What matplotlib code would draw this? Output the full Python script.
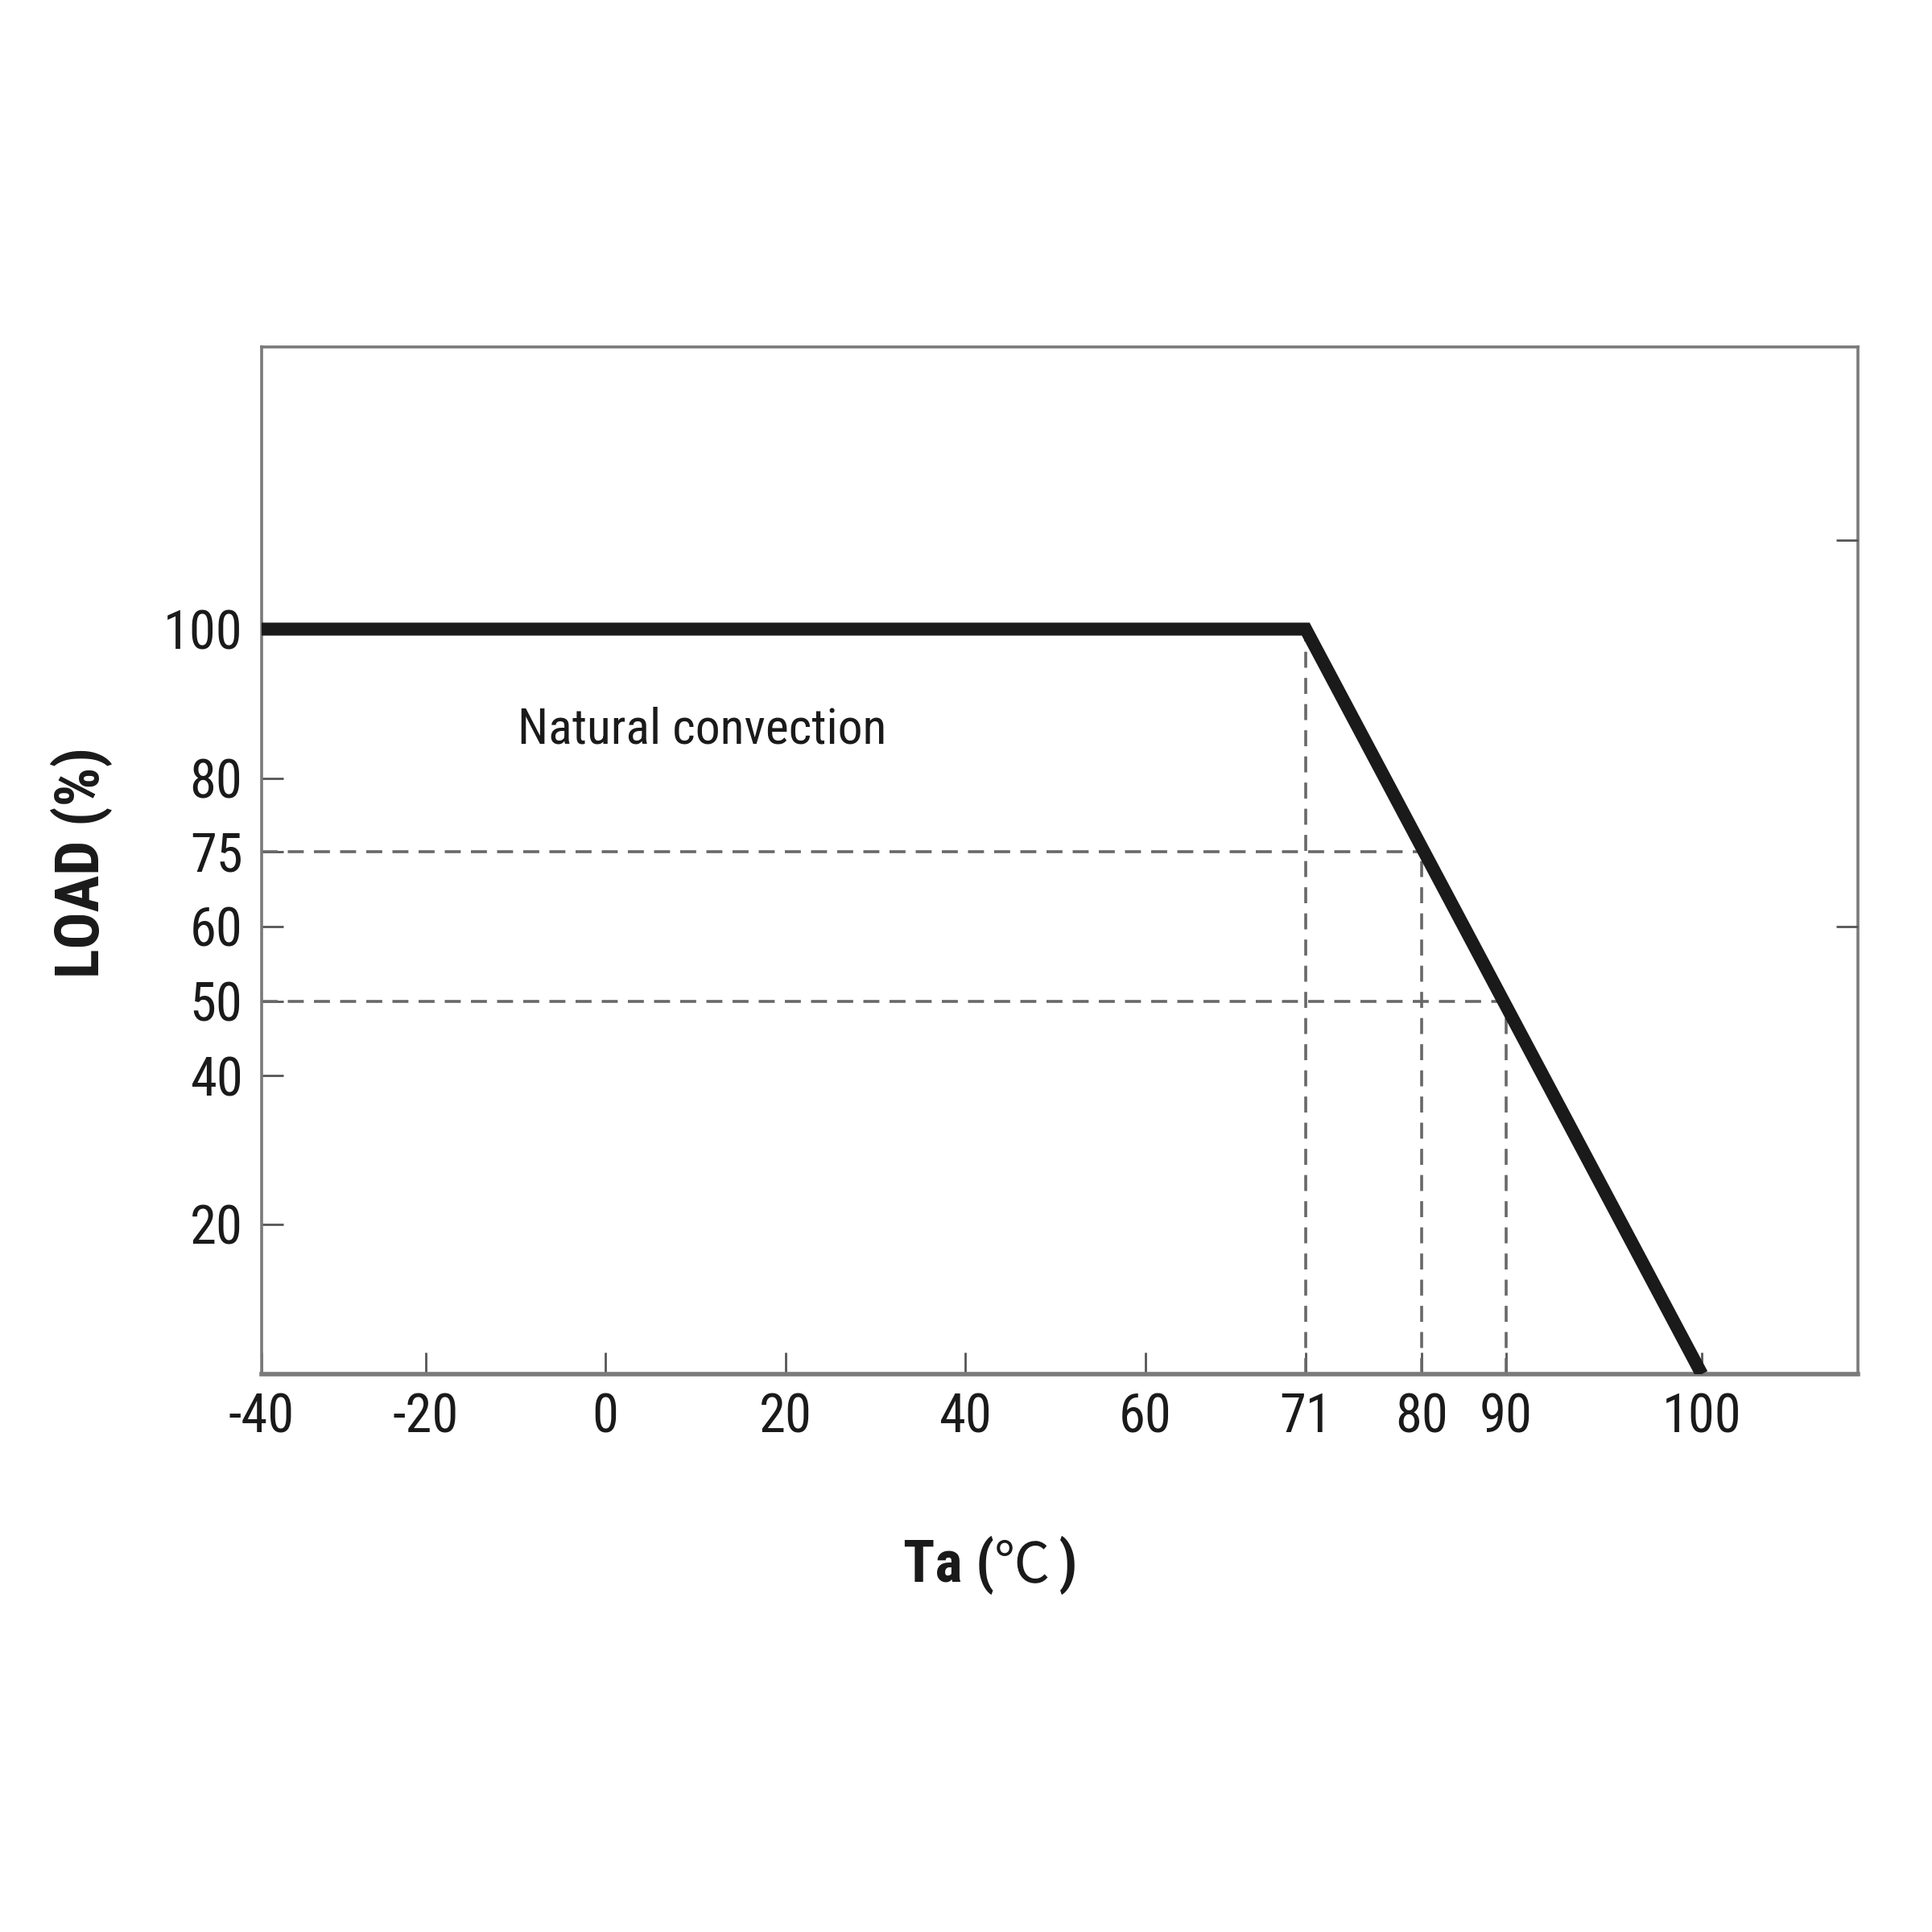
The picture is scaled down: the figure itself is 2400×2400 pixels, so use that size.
import numpy as np
import matplotlib
matplotlib.use('Agg')
import matplotlib.pyplot as plt
from matplotlib import font_manager

names = {f.name for f in font_manager.fontManager.ttflist}
prefs = ['Liberation Sans Narrow', 'Arial Narrow', 'Roboto Condensed', 'Archivo Narrow',
         'PT Sans Narrow', 'Pragati Narrow', 'Liberation Sans']
NARROW = next((p for p in prefs if p in names), 'DejaVu Sans')
plt.rcParams['font.family'] = [NARROW, 'DejaVu Sans']

# ---- data ----
temp = [-40, 71, 100]
load = [100, 100, 0]
x_ticks = [-40, -20, 0, 20, 40, 60, 71, 80, 90, 100]
x_labels = ['-40', '-20', '0', '20', '40', '60', '71', '80', '90', '100']
y_ticks = [20, 40, 50, 60, 75, 80, 100]
y_labels = ['20', '40', '50', '60', '75', '80', '100']
guide_x = [71, 80, 90]
guide_y = [100, 75, 50]
right_ticks = [60, 112]
note = 'Natural convection'

# ---- schematic (non-uniform) axis scales ----
x_knot_val = [-40, -20, 0, 20, 40, 60, 71, 80, 90, 100, 112]
x_knot_pos = [0, 204, 427, 651, 874, 1098, 1297, 1441, 1546, 1789, 1983]
y_knot_val = [0, 20, 40, 50, 60, 75, 80, 100, 138]
y_knot_pos = [0, 186, 371, 463.5, 556.5, 649.5, 740, 925.5, 1276.4]

def fx(v):
    return np.interp(v, x_knot_val, x_knot_pos)
def ix(p):
    return np.interp(p, x_knot_pos, x_knot_val)
def fy(v):
    return np.interp(v, y_knot_val, y_knot_pos)
def iy(p):
    return np.interp(p, y_knot_pos, y_knot_val)

W = 2400
fig = plt.figure(figsize=(12, 12), dpi=200)
ax = fig.add_axes([325 / W, (W - 1707) / W, (2308 - 325) / W, (1707 - 430.6) / W])
ax.set_xscale('function', functions=(fx, ix))
ax.set_yscale('function', functions=(fy, iy))
ax.set_xlim(-40, 112)
ax.set_ylim(0, 138)

grey = '#7a7a7a'
for s in ax.spines.values():
    s.set_color(grey)
    s.set_linewidth(1.3)
ax.spines['bottom'].set_linewidth(2.0)

# dashed guides
dash_col = '#686868'
for gx, gy in zip(guide_x, guide_y):
    ax.plot([gx, gx], [0, gy], color=dash_col, lw=1.3, dashes=(5.5, 3.5), zorder=2)
    if gy < 100:
        ax.plot([-40, gx], [gy, gy], color=dash_col, lw=1.3, dashes=(5.5, 3.5), zorder=2)

# derating curve
ax.plot(temp, load, color='#1a1a1a', lw=5.8, solid_capstyle='butt',
        solid_joinstyle='miter', zorder=3)

ax.text(-9.8, 84.7, note, ha='left', va='baseline', fontsize=22.2, color='#1a1a1a')

ax.set_xticks(x_ticks)
ax.set_xticklabels(x_labels)
ax.set_yticks(y_ticks)
ax.set_yticklabels(y_labels)
ax.minorticks_off()
ax.tick_params(axis='both', direction='in', length=9.7, width=1.0, color='#555555',
               labelsize=24, labelcolor='#1a1a1a', pad=8.5)
ax.tick_params(axis='x', pad=8.0)

ax2 = ax.twinx()
ax2.set_yscale('function', functions=(fy, iy))
ax2.set_ylim(0, 138)
ax2.set_yticks(right_ticks)
ax2.set_yticklabels([])
ax2.minorticks_off()
ax2.tick_params(axis='y', direction='in', length=9.7, width=1.0, color='#555555')
for s in ax2.spines.values():
    s.set_visible(False)

# axis labels
fig.text(101 / W, (W - 1071) / W, 'LOAD (%)', rotation=90, ha='center', va='center',
         fontsize=27.5, fontweight='bold', color='#1a1a1a')
base_y = (W - 1965) / W
fig.text(1236 / W, base_y, 'Ta (', ha='right', va='baseline', fontsize=26,
         fontweight='bold', color='#1a1a1a')
fig.text(1270 / W, base_y, '\u2103', ha='center', va='baseline', fontsize=25,
         family=['Noto Sans CJK SC', 'DejaVu Sans'], fontweight='light', color='#1a1a1a')
fig.text(1315 / W, base_y, ')', ha='left', va='baseline', fontsize=26,
         fontweight='bold', color='#1a1a1a')

fig.savefig('out.png', dpi=200, facecolor='white')
